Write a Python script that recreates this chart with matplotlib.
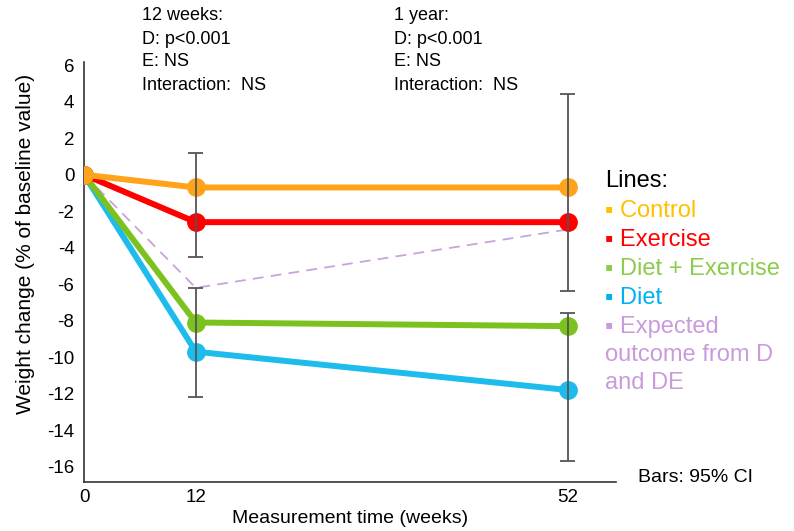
import numpy as np
import matplotlib.pyplot as plt

plt.rcParams['font.family'] = ['Liberation Sans', 'DejaVu Sans']
plt.rcParams['axes.unicode_minus'] = False

# Datos
semanas = [0, 12, 52]
control = [0, -0.7, -0.7]
ejercicio = [0, -2.6, -2.6]
dieta_ejercicio = [0, -8.1, -8.3]
dieta = [0, -9.7, -11.8]
esperado = [0, -6.2, -3.0]

# Barras de error (IC 95%)
barra_x = [12, 12, 52, 52]
barra_sup = [1.2, -6.2, 4.4, -7.6]
barra_inf = [-4.5, -12.2, -6.4, -15.7]

leyenda = ['Control', 'Exercise', 'Diet + Exercise', 'Diet', 'Expected']
colores_texto = ['#FFC000', '#FF0000', '#8CCB4C', '#00B0F0', '#C99BDD']

notas_12 = ['12 weeks:', 'D: p<0.001', 'E: NS', 'Interaction:  NS']
notas_52 = ['1 year:', 'D: p<0.001', 'E: NS', 'Interaction:  NS']

fig = plt.figure(figsize=(7.94, 5.31), dpi=100)
ax = fig.add_axes([0.106, 0.092, 0.67, 0.792])

ax.plot(semanas, esperado, color='#C9A3DB', lw=1.3, ls=(0, (6, 4)), zorder=2)
ax.plot(semanas, dieta, color='#1EBCEB', lw=4.3, marker='o', ms=12.5, zorder=3)
ax.plot(semanas, dieta_ejercicio, color='#7CC21F', lw=4.3, marker='o', ms=12.5, zorder=4)
ax.plot(semanas, ejercicio, color='#FF0000', lw=4.3, marker='o', ms=12.5, zorder=5)
ax.plot(semanas, control, color='#FFA31A', lw=4.3, marker='o', ms=12.5, zorder=6)

ax.vlines(barra_x, barra_inf, barra_sup, color='#555555', lw=1.3, zorder=7)
for x, a, b in zip(barra_x, barra_inf, barra_sup):
    ax.hlines([a, b], x - 0.8, x + 0.8, color='#555555', lw=1.3, zorder=7)

ax.set_xlim(0, 57.2)
ax.set_ylim(-16.85, 6.2)
ax.set_xticks(semanas)
ax.set_yticks(np.arange(-16, 7, 2))
ax.tick_params(length=0, labelsize=13.5)
ax.tick_params(axis='y', pad=7)
ax.tick_params(axis='x', pad=5)
for s in ['top', 'right']:
    ax.spines[s].set_visible(False)
for s in ['left', 'bottom']:
    ax.spines[s].set_color('#333333')
    ax.spines[s].set_linewidth(1.2)

ax.set_xlabel('Measurement time (weeks)', fontsize=14, labelpad=3)
ax.set_ylabel('Weight change (% of baseline value)', fontsize=15)
ax.yaxis.set_label_coords(-0.092, 0.567)

# Textos superiores
for i, (a, b) in enumerate(zip(notas_12, notas_52)):
    y = 1 - (16 + 23 * i) / 531
    fig.text(142 / 794, y, a, fontsize=13, va='center')
    fig.text(394 / 794, y, b, fontsize=13, va='center')
fig.text(638 / 794, 1 - 478 / 531, 'Bars: 95% CI', fontsize=14, va='center')

# Leyenda manual
fig.text(605 / 794, 1 - 181 / 531, 'Lines:', fontsize=17, va='center')
pos_y = [211, 240, 269, 298, 327]
for t, c, y in zip(leyenda, colores_texto, pos_y):
    fig.text(605 / 794, 1 - y / 531, '▪ ' + t, fontsize=17, color=c, va='center')
fig.text(605 / 794, 1 - 355 / 531, 'outcome from D', fontsize=17,
         color=colores_texto[4], va='center')
fig.text(605 / 794, 1 - 383 / 531, 'and DE', fontsize=17,
         color=colores_texto[4], va='center')

fig.savefig('out.png', dpi=100)
